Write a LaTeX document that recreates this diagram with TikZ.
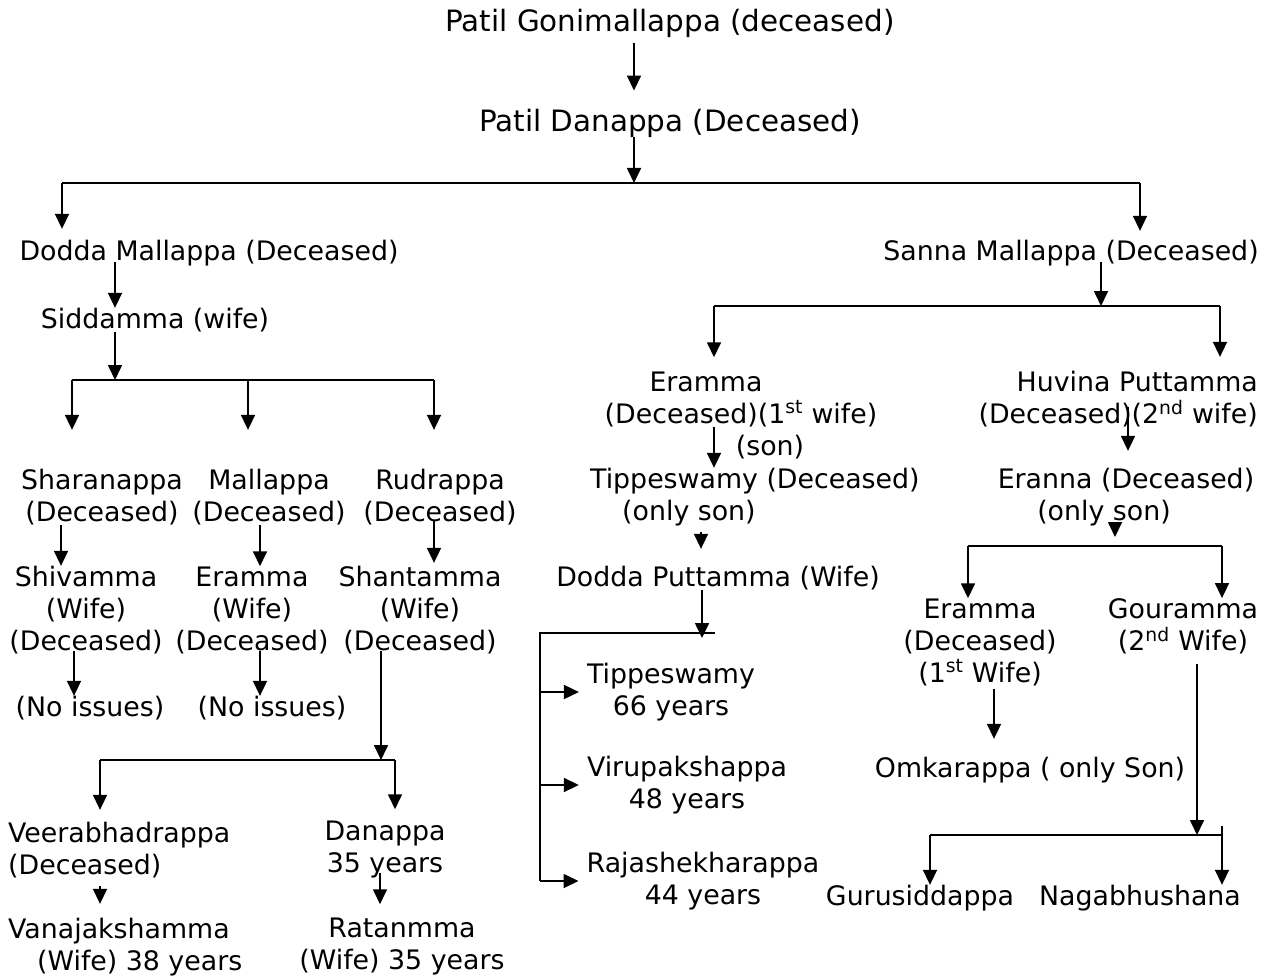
\documentclass[tikz,border=0pt]{standalone}
\usepackage{fontspec}
\setmainfont{DejaVu Sans}
\usetikzlibrary{arrows.meta,positioning,calc}
\tikzset{
  pnode/.style={inner sep=0pt,yshift=-3pt,font=\fontsize{26.8}{32}\selectfont,align=center},
  ptop/.style={pnode,font=\fontsize{29.4}{32}\selectfont},
  pleft/.style={pnode,align=left},
  pright/.style={pnode,align=right},
  bus/.style={line width=1.7pt},
  kin/.style={-{Triangle[length=15pt,width=14pt]},line width=1.7pt},
}
\begin{document}
\begin{tikzpicture}[x=1pt,y=-1pt]
  \useasboundingbox (0,0) rectangle (1272,979);

  % top line
  \node[ptop] (pgm) at (670,20) {Patil Gonimallappa (deceased)};
  \node[ptop] (pdan) at (670,120) {Patil Danappa (Deceased)};
  \node[pnode] (dodda) at (209,250) {Dodda Mallappa (Deceased)};
  \node[pnode] (sanna) at (1071,250) {Sanna Mallappa (Deceased)};

  % Dodda Mallappa branch
  \node[pnode] (sidd) at (155,317) {Siddamma (wife)};
  \node[pnode] (shara) at (102,494) {Sharanappa\\(Deceased)};
  \node[pnode] (malla) at (269,494) {Mallappa\\(Deceased)};
  \node[pnode] (rudra) at (440,494) {Rudrappa\\(Deceased)};
  \node[pnode] (shiva) at (86,607) {Shivamma\\(Wife)\\(Deceased)};
  \node[pnode] (eramw) at (252,607) {Eramma\\(Wife)\\(Deceased)};
  \node[pnode] (shant) at (420,607) {Shantamma\\(Wife)\\(Deceased)};
  \node[pnode] (nois1) at (90,705) {(No issues)};
  \node[pnode] (nois2) at (272,705) {(No issues)};
  \node[pleft,anchor=west] (veera) at (8,847) {Veerabhadrappa\\(Deceased)};
  \node[pnode] (danap) at (385,847) {Danappa\\35 years};
  \node[pleft,anchor=west] (vanaj) at (8,944) {Vanajakshamma\\\hspace*{29pt}(Wife) 38 years};
  \node[pnode] (ratan) at (402,944) {Ratanmma\\(Wife) 35 years};

  % Sanna Mallappa branch
  \node[pnode] (eram1) at (741,396) {Eramma\hspace*{70pt}\\(Deceased)(1\textsuperscript{st} wife)};
  \node[pnode] (son) at (770,444) {(son)};
  \node[pleft,anchor=west] (tipd) at (590,494) {Tippeswamy (Deceased)\\\hspace*{32pt}(only son)};
  \node[pnode] (dputt) at (718,575) {Dodda Puttamma (Wife)};
  \node[pnode] (tip66) at (671,689) {Tippeswamy\\66 years};
  \node[pnode] (viru) at (687,782) {Virupakshappa\\48 years};
  \node[pnode] (raja) at (703,878) {Rajashekharappa\\44 years};
  \node[pright,anchor=east] (huv) at (1258,396) {Huvina Puttamma\\(Deceased)(2\textsuperscript{nd} wife)};
  \node[pnode] (eranna) at (1126,494) {Eranna (Deceased)\\(only son)\hspace*{44pt}};
  \node[pnode] (eram2) at (980,639) {Eramma\\(Deceased)\\(1\textsuperscript{st} Wife)};
  \node[pnode] (gour) at (1183,623) {Gouramma\\(2\textsuperscript{nd} Wife)};
  \node[pnode] (omk) at (1030,767) {Omkarappa ( only Son)};
  \node[pnode] (guru) at (920,895) {Gurusiddappa};
  \node[pnode] (naga) at (1140,895) {Nagabhushana};

  % junctions
  \coordinate (jA) at (634,183); \coordinate (jAL) at (62,183); \coordinate (jAR) at (1140,183);
  \coordinate (jB) at (115,380); \coordinate (jBL) at (72,380);
  \coordinate (jBM) at (248,380); \coordinate (jBR) at (434,380);
  \coordinate (jC) at (381,760); \coordinate (jCL) at (100,760); \coordinate (jCR) at (395,760);
  \coordinate (jD) at (1101,306); \coordinate (jDL) at (714,306); \coordinate (jDR) at (1220,306);
  \coordinate (jE) at (702,638); \coordinate (jEL) at (540,633); \coordinate (jER) at (715,633);
  \coordinate (jF) at (1115,546); \coordinate (jFL) at (968,546); \coordinate (jFR) at (1222,546);
  \coordinate (jG) at (1197,835); \coordinate (jGL) at (930,835); \coordinate (jGR) at (1222,835);
  \coordinate (xsh) at (61,0); \coordinate (xma) at (260,0); \coordinate (xni) at (74,0);
  \coordinate (xda) at (380,0); \coordinate (xtp) at (701,0); \coordinate (xhu) at (1128,0);
  \coordinate (xom) at (994,0);

  % Patil line
  \draw[kin,shorten <=6pt,shorten >=18pt] (pgm.south -| jA) -- (pdan.north -| jA);
  \draw[kin] (pdan.south -| jA) -- (jA);
  \draw[bus] (jAL) -- (jAR);
  \draw[kin,shorten >=11pt] (jAL) -- (dodda.north -| jAL);
  \draw[kin,shorten >=9pt] (jAR) -- (sanna.north -| jAR);

  % Dodda Mallappa
  \draw[kin,shorten <=-4pt] (dodda.south -| jB) -- (sidd.north -| jB);
  \draw[kin] (sidd.south -| jB) -- (jB);
  \draw[bus] (jBL) -- (jBR);
  \foreach \j/\n in {jBL/shara,jBM/malla,jBR/rudra}
    \draw[kin,shorten >=39pt] (\j) -- (\n.north -| \j);
  \draw[kin] (shara.south -| xsh) -- (shiva.north -| xsh);
  \draw[kin] (malla.south -| xma) -- (eramw.north -| xma);
  \draw[kin,shorten <=-4pt,shorten >=3pt] (rudra.south -| jBR) -- (shant.north -| jBR);
  \draw[kin,shorten <=-3pt] (shiva.south -| xni) -- (nois1.north -| xni);
  \draw[kin,shorten <=-3pt] (eramw.south -| xma) -- (nois2.north -| xma);
  \draw[kin,shorten <=-3pt] (shant.south -| jC) -- (jC);
  \draw[bus] (jCL) -- (jCR);
  \draw[kin,shorten >=12pt] (jCL) -- (veera.north -| jCL);
  \draw[kin,shorten >=12pt] (jCR) -- (danap.north -| jCR);
  \draw[kin,shorten <=8pt,shorten >=14pt] (veera.south -| jCL) -- (vanaj.north -| jCL);
  \draw[kin,shorten <=-6pt,shorten >=14pt] (danap.south -| xda) -- (ratan.north -| xda);

  % Sanna Mallappa
  \draw[kin,shorten <=-4pt] (sanna.south -| jD) -- (jD);
  \draw[bus] (jDL) -- (jDR);
  \draw[kin,shorten >=14pt] (jDL) -- (eram1.north -| jDL);
  \draw[kin,shorten >=14pt] (jDR) -- (huv.north -| jDR);
  \draw[kin] (eram1.south -| jDL) -- (tipd.north -| jDL);
  \draw[kin,shorten <=6pt,shorten >=17pt] (tipd.south -| xtp) -- (dputt.north -| xtp);
  \draw[kin] (dputt.south -| jE) -- (jE);
  \draw[bus] (jER) -- (jEL) -- (raja.west -| jEL);
  \foreach \n in {tip66,viru,raja}
    \draw[kin,shorten >=8pt] (\n.west -| jEL) -- (\n.west);
  \draw[kin,shorten <=-20pt,shorten >=17pt] (huv.south -| xhu) -- (eranna.north -| xhu);
  \draw[kin,shorten >=9pt] (eranna.south -| jF) -- (jF);
  \draw[bus] (jFL) -- (jFR);
  \draw[kin] (jFL) -- (eram2.north -| jFL);
  \draw[kin] (jFR) -- (gour.north -| jFR);
  \draw[kin,shorten <=3pt,shorten >=18pt] (eram2.south -| xom) -- (omk.north -| xom);
  \draw[kin,shorten <=10pt] (gour.south -| jG) -- (jG);
  \draw[bus] (jGL) -- (jGR) -- ++(0,-9);
  \draw[kin] (jGL) -- (guru.north -| jGL);
  \draw[kin] (jGR) -- (naga.north -| jGR);
\end{tikzpicture}
\end{document}
